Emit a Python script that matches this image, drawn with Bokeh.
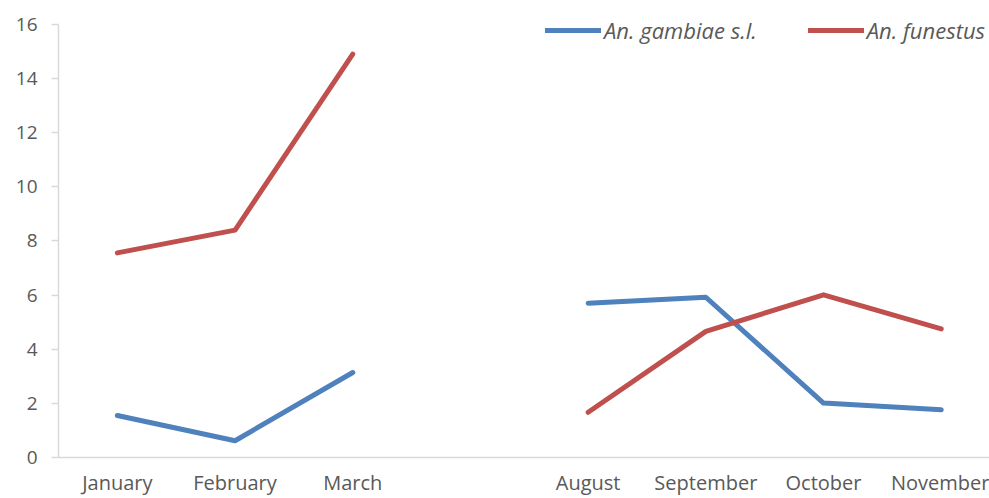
import numpy as np
from bokeh.plotting import figure
from bokeh.models import Range1d, FixedTicker, Legend, LegendItem, ColumnDataSource
from bokeh.embed import file_html
from bokeh.resources import INLINE

months = ["January", "February", "March", "", "August", "September", "October", "November"]
gambiae = [1.55, 0.62, 3.14, np.nan, 5.70, 5.92, 2.01, 1.76]
funestus = [7.56, 8.40, 14.9, np.nan, 1.67, 4.66, 6.01, 4.75]
y_ticks = [0, 2, 4, 6, 8, 10, 12, 14, 16]

x = list(range(len(months)))
src = ColumnDataSource(dict(x=x, g=gambiae, f=funestus))

# frame spans 12..458 px; 0..16 occupies 24..458, headroom above 16 for the legend
p = figure(width=989, height=498, output_backend="svg", toolbar_location=None,
           x_range=Range1d(-0.5, 7.41), y_range=Range1d(0, 16.44),
           min_border_left=58, min_border_right=0, min_border_top=12, min_border_bottom=40)
p.outline_line_color = None
p.xgrid.visible = False
p.ygrid.visible = False
p.background_fill_color = "white"
p.border_fill_color = "white"

r1 = p.line("x", "g", source=src, line_color="#4f81bd", line_width=5, line_cap="round", line_join="round")
r2 = p.line("x", "f", source=src, line_color="#c0504d", line_width=5, line_cap="round", line_join="round")

font = "Open Sans"
p.xaxis.ticker = FixedTicker(ticks=x)
p.xaxis.major_label_overrides = {i: m for i, m in enumerate(months)}
p.xaxis.major_tick_out = 0
p.xaxis.major_tick_in = 0
p.xaxis.minor_tick_out = 0
p.xaxis.minor_tick_in = 0
p.xaxis.axis_line_color = "#d9d9d9"
p.xaxis.axis_line_width = 1.5
p.xaxis.major_label_standoff = 11
p.xaxis.major_label_text_font = font
p.xaxis.major_label_text_font_size = "20px"
p.xaxis.major_label_text_color = "#595959"

p.yaxis.ticker = FixedTicker(ticks=y_ticks)
p.yaxis.bounds = (0, 16)
p.yaxis.major_tick_out = 7
p.yaxis.major_tick_in = 0
p.yaxis.minor_tick_out = 0
p.yaxis.minor_tick_in = 0
p.yaxis.major_tick_line_color = "#d9d9d9"
p.yaxis.major_tick_line_width = 1.5
p.yaxis.axis_line_color = "#d9d9d9"
p.yaxis.axis_line_width = 1.5
p.yaxis.major_label_standoff = 14
p.yaxis.major_label_text_font = font
p.yaxis.major_label_text_font_size = "19px"
p.yaxis.major_label_text_color = "#595959"

legend = Legend(items=[LegendItem(label="An. gambiae s.l.", renderers=[r1]),
                       LegendItem(label="An. funestus", renderers=[r2])],
                orientation="horizontal", location=(487, 412))
legend.glyph_width = 56
legend.glyph_height = 16
legend.label_standoff = 3
legend.spacing = 51
legend.padding = 0
legend.margin = 0
legend.border_line_color = None
legend.background_fill_alpha = 0
legend.label_text_font = font
legend.label_text_font_style = "italic"
legend.label_text_font_size = "22px"
legend.label_text_color = "#595959"
p.add_layout(legend)

open("out.html", "w").write(file_html(p, INLINE))
